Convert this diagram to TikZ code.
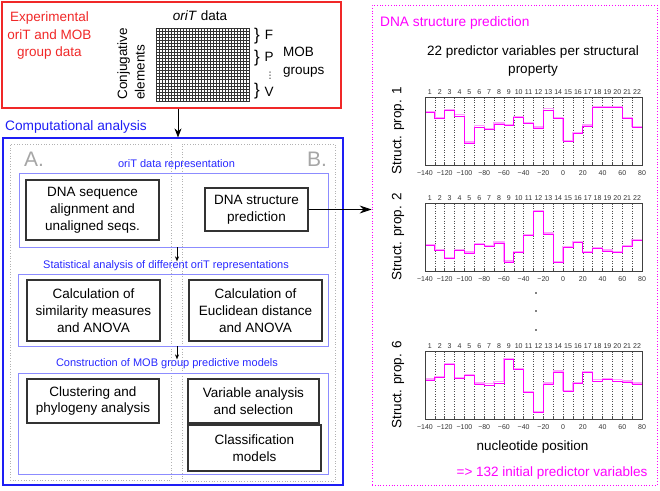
\documentclass[tikz,border=0pt]{standalone}
\usepackage{fontspec}
\setmainfont{Liberation Sans}
\newfontfamily\dejavu{DejaVu Sans}
\usetikzlibrary{arrows.meta}
\definecolor{myred}{RGB}{240,40,40}
\definecolor{myblue}{RGB}{30,30,245}
\definecolor{secblue}{RGB}{140,140,255}
\definecolor{lblblue}{RGB}{40,40,255}
\definecolor{mymag}{RGB}{255,0,255}
\definecolor{lightmag}{RGB}{255,160,255}
\definecolor{boxgray}{RGB}{51,51,51}
\newcommand\fs[2]{\fontsize{#1}{#2}\selectfont}
\tikzset{
  procbox/.style={draw=boxgray, line width=1.2pt, align=center, font=\fs{13.5}{17}, inner sep=0pt},
  secbox/.style={draw=secblue, line width=0.7pt, inner sep=0pt},
  seclabel/.style={text=lblblue, font=\fs{11}{13}, inner sep=0pt},
  grayfr/.style={draw=gray!60, dotted, line width=0.7pt, inner sep=0pt},
  bigtxt/.style={font=\fs{13.5}{17.5}, inner sep=0pt},
  axlbl/.style={font=\fs{7}{8}, text=black!80, inner sep=0pt},
  stepline/.style={draw=mymag, line width=0.8pt},
  steplight/.style={draw=lightmag, line width=1.3pt},
  bigarrow/.style={-{Stealth[length=9pt,width=7pt]}, line width=0.8pt},
  smallarrow/.style={-{Stealth[length=5pt,width=4pt]}, line width=0.5pt},
}
\newcommand\strplot[5]{% name, top y, label, values, first value
  \begin{scope}[shift={(425,#2)}]
    \foreach \i in {1,...,21} \draw[dotted, black!70, line width=0.5pt] ({\i*217/22},0) -- ({\i*217/22},68);
    \foreach \i in {1,...,22} \node[axlbl] (#1-t\i) at ({(\i-0.5)*217/22},-5) {\i};
    \foreach \i in {0,...,22} {\draw[black!70, line width=0.5pt] ({\i*217/22},68) -- ({\i*217/22},66);
                               \draw[black!70, line width=0.5pt] ({\i*217/22},0) -- ({\i*217/22},2);}
    \foreach \v [count=\k from 0] in {−140,−120,−100,−80,−60,−40,−20,0,20,40,60,80}
      \node[axlbl] (#1-x\k) at ({\k*217/11},76) {\v};
    \draw[steplight, yshift=1.2pt] (0,{68*(1-#5)}) \foreach \v [count=\k from 0] in {#4} { -- ({\k*217/22},{68*(1-\v)}) -- ({(\k+1)*217/22},{68*(1-\v)}) };
    \draw[stepline] (0,{68*(1-#5)}) \foreach \v [count=\k from 0] in {#4} { -- ({\k*217/22},{68*(1-\v)}) -- ({(\k+1)*217/22},{68*(1-\v)}) };
    \node[draw=black!75, line width=0.9pt, minimum width=217, minimum height=68, inner sep=0pt, anchor=north west] (#1) at (0,0) {};
  \end{scope}
  \node[bigtxt, rotate=90] (#1-lab) at (398,{#2+34}) {Struct. prop. #3};
}
\begin{document}
\begin{tikzpicture}[x=1pt, y=-1pt]
\useasboundingbox (0,0) rectangle (660,490);
% ---------- top red box ----------
\node[draw=myred, line width=1.2pt, minimum width=339, minimum height=106, inner sep=0pt] (redbox) at (171.5,55) {};
\node[bigtxt, text=myred, align=center] (exp) at (49.5,36) {Experimental\\oriT and MOB\\group data};
\node[font=\fs{13.5}{15}, inner sep=0pt] (oritdata) at (200,16) {\textit{oriT} data};
\node[bigtxt, rotate=90, align=left] (conj) at (131,64) {Conjugative\\elements};
\foreach \i in {0,...,31} \draw[black!80, line width=0.5pt] ({156+\i*3},28) -- ({156+\i*3},101);
\foreach \j in {0,...,24} \draw[black!80, line width=0.5pt] (156,{28+\j*73/24}) -- (249,{28+\j*73/24});
\node[draw=black!80, line width=0.8pt, minimum width=93, minimum height=73, inner sep=0pt, anchor=north west] (grid) at (156,28) {};
\node[font=\fs{17}{17}, inner sep=0pt] (br1) at (257,36) {\}};
\node[font=\fs{17}{17}, inner sep=0pt] (br2) at (257,58) {\}};
\node[font=\fs{17}{17}, inner sep=0pt] (br3) at (257,91) {\}};
\node[bigtxt] (gF) at (269,35) {F};
\node[bigtxt] (gP) at (269,57) {P};
\node[font=\dejavu\fs{9}{9}, inner sep=0pt] (gdots) at (270,76) {⋮};
\node[bigtxt] (gV) at (269,92) {V};
\node[bigtxt, align=left, anchor=west] (mob) at (283,62) {MOB\\groups};
% ---------- computational analysis ----------
\node[font=\fs{13.7}{16}, text=myblue, anchor=west, inner sep=0pt] (comp) at (5,127) {Computational analysis};
\node[draw=myblue, line width=1.2pt, minimum width=340, minimum height=347, inner sep=0pt] (bluebox) at (173,311.5) {};
\node[grayfr, minimum width=161, minimum height=336] (colA) at (90.5,312) {};
\node[grayfr, minimum width=153, minimum height=337] (colB) at (258.5,312.5) {};
\node[font=\fs{21}{21}, text=gray!70, inner sep=0pt] (lA) at (34,159) {A.};
\node[font=\fs{21}{21}, text=gray!70, inner sep=0pt] (lB) at (317,159) {B.};
\coordinate (topx) at (178,0);
\draw[bigarrow] (redbox.south -| topx) -- (bluebox.north -| topx);
% section 1
\node[seclabel] (lbl1) at (176.5,165) {oriT data representation};
\node[secbox, minimum width=309, minimum height=74] (sec1) at (173.5,210) {};
\node[procbox, minimum width=133, minimum height=60] (seq) at (92.5,210) {DNA sequence\\alignment and\\unaligned seqs.};
\node[procbox, minimum width=103, minimum height=43] (dstruct) at (256.5,209.5) {DNA structure\\prediction};
% section 2
\node[seclabel] (lbl2) at (166,266) {Statistical analysis of different oriT representations};
\node[secbox, minimum width=310, minimum height=72] (sec2) at (173,310) {};
\node[procbox, minimum width=133, minimum height=61] (sim) at (93.5,310.5) {Calculation of\\similarity measures\\and ANOVA};
\node[procbox, minimum width=133, minimum height=61] (euc) at (255.5,310.5) {Calculation of\\Euclidean distance\\and ANOVA};
% section 3
\node[seclabel] (lbl3) at (167,364) {Construction of MOB group predictive models};
\node[secbox, minimum width=310, minimum height=101] (sec3) at (173,423.5) {};
\node[procbox, minimum width=132, minimum height=44] (clu) at (93,401) {Clustering and\\phylogeny analysis};
\node[procbox, minimum width=131, minimum height=44] (var) at (253.5,401) {Variable analysis\\and selection};
\node[procbox, minimum width=133, minimum height=46] (cla) at (254.5,448) {Classification\\models};
\coordinate (midx) at (177,0);
\draw[smallarrow] (sec1.south -| midx) -- ++(0,14);
\draw[smallarrow] (sec2.south -| midx) -- ++(0,13);
% ---------- DNA structure prediction panel ----------
\node[draw=mymag, dotted, line width=0.8pt, minimum width=285, minimum height=480, inner sep=0pt] (magbox) at (514.5,245) {};
\draw[-{Stealth[length=12pt,width=8pt]}, line width=0.8pt] (dstruct.east) -- (magbox.west |- dstruct.east);
\node[font=\fs{13.7}{16}, text=mymag, anchor=west, inner sep=0pt] (dsp) at (380,23) {DNA structure prediction};
\node[bigtxt, align=center] (pred) at (533,61) {22 predictor variables per structural\\property};
\strplot{p1}{97}{1}{0.77,0.68,0.80,0.72,0.32,0.56,0.52,0.60,0.58,0.70,0.61,0.54,0.81,0.68,0.34,0.46,0.57,0.84,0.84,0.84,0.68,0.55}{0.77}
\strplot{p2}{203}{2}{0.37,0.30,0.18,0.30,0.26,0.39,0.36,0.41,0.13,0.27,0.52,0.87,0.54,0.12,0.34,0.42,0.27,0.33,0.29,0.27,0.36,0.45}{0.37}
\strplot{p6}{351}{6}{0.57,0.61,0.80,0.59,0.64,0.51,0.50,0.53,0.87,0.73,0.39,0.09,0.51,0.69,0.40,0.52,0.68,0.56,0.58,0.56,0.54,0.51}{0.57}
\fill (536,293) circle (0.9);
\fill (536,311) circle (0.9);
\fill (536,330) circle (0.9);
\node[bigtxt] (nuc) at (532.5,447) {nucleotide position};
\node[bigtxt, text=mymag] (res) at (552,473) {=> 132 initial predictor variables};
\end{tikzpicture}
\end{document}
